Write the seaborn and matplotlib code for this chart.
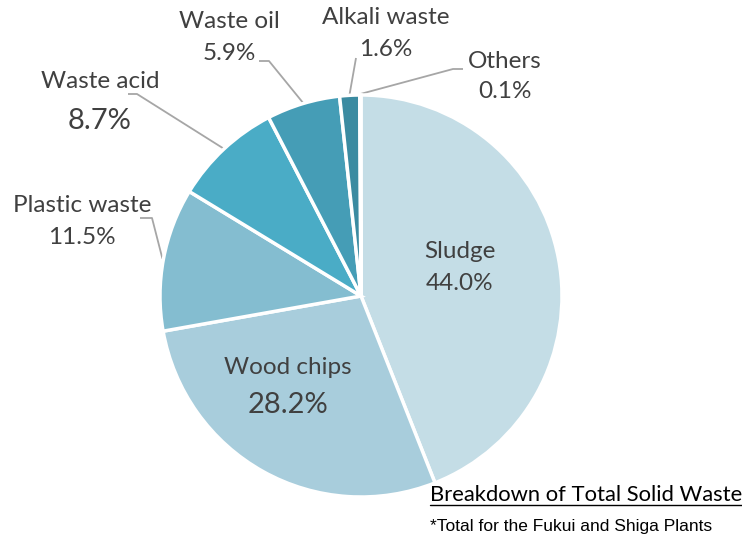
import numpy as np
import matplotlib.pyplot as plt
import seaborn as sns

categories = ['Sludge', 'Wood chips', 'Plastic waste', 'Waste acid',
              'Waste oil', 'Alkali waste', 'Others']
shares = [44.0, 28.2, 11.5, 8.7, 5.9, 1.6, 0.1]

palette = ['#C4DDE6', '#A8CDDC', '#84BDD0', '#4AACC6', '#459DB6', '#3B8BA1', '#2F7A90']

TEXT = '#404040'
LEAD = '#A6A6A6'
W, H = 742, 534
CX, CY, R = 361, H - 296, 201

sns.set_theme(style='white')
plt.rcParams['font.family'] = ['Lato', 'DejaVu Sans']

fig = plt.figure(figsize=(W / 100, H / 100), dpi=100)
ax = fig.add_axes([0, 0, 1, 1])

wedges, _ = ax.pie(shares, colors=palette, startangle=90, counterclock=False,
                   center=(CX, CY), radius=R,
                   wedgeprops=dict(edgecolor='white', linewidth=2.5))
ax.set_xlim(0, W)
ax.set_ylim(0, H)
ax.set_aspect('equal')
ax.axis('off')

# label layout in image pixels: (x, y name, y value, value size)
label_pos = {
    'Sludge': (460, 251, 283, 17.5),
    'Wood chips': (288, 368, 405, 21),
    'Plastic waste': (82, 206, 238, 17.5),
    'Waste acid': (100, 82, 121, 21),
    'Waste oil': (229, 21, 53, 17.5),
    'Alkali waste': (386, 17, 50, 17.5),
    'Others': (505, 62, 92, 17.5),
}
# leader elbows (image pixels) for outside labels
elbows = {
    'Plastic waste': [(152, 218), (140, 218)],
    'Waste acid': [(137, 94), (128, 94)],
    'Waste oil': [(269, 61), (259, 61)],
    'Alkali waste': [(356, 58)],
    'Others': [(453, 69), (463, 69)],
}

for name, val, w in zip(categories, shares, wedges):
    x, yn, yv, vs = label_pos[name]
    ax.text(x, H - yn, name, ha='center', va='center', fontsize=17.5, color=TEXT)
    ax.text(x, H - yv, f'{val:.1f}%', ha='center', va='center', fontsize=vs, color=TEXT)
    if name in elbows:
        mid = np.deg2rad((w.theta1 + w.theta2) / 2)
        px = CX + (R + 1) * np.cos(mid)
        py = CY + (R + 1) * np.sin(mid)
        xs = [px] + [e[0] for e in elbows[name]]
        ys = [py] + [H - e[1] for e in elbows[name]]
        ax.plot(xs, ys, color=LEAD, lw=1.3, solid_capstyle='butt', zorder=0)

t = ax.text(430, H - 501, 'Breakdown of Total Solid Waste', ha='left', va='baseline',
            fontsize=15.8, color='black')
fig.canvas.draw()
bb = t.get_window_extent()
ax.plot([bb.x0, bb.x1], [H - 504.5, H - 504.5], color='black', lw=1)
ax.text(430, H - 530.5, '*Total for the Fukui and Shiga Plants', ha='left', va='baseline',
        fontsize=12.5, color='black', family='Liberation Sans')

fig.savefig('out.png', dpi=100)
